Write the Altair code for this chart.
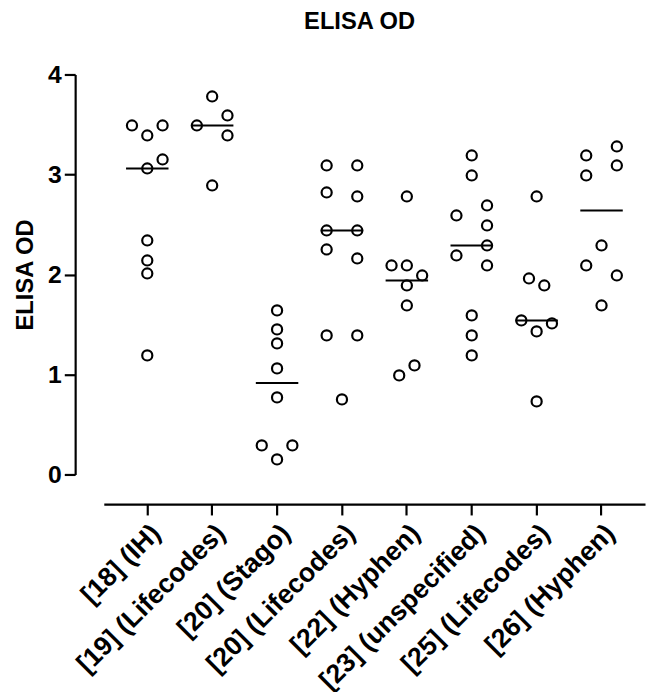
import altair as alt
import pandas as pd

groups = ["[18] (IH)", "[19] (Lifecodes)", "[20] (Stago)", "[20] (Lifecodes)",
          "[22] (Hyphen)", "[23] (unspecified)", "[25] (Lifecodes)", "[26] (Hyphen)"]

g18_ih = [3.49, 3.49, 3.39, 3.15, 3.06, 2.34, 2.14, 2.01, 1.19]
g19_life = [3.78, 3.49, 3.59, 3.39, 2.89]
g20_stago = [1.64, 1.45, 1.31, 1.06, 0.77, 0.29, 0.29, 0.15]
g20_life = [3.09, 3.09, 2.82, 2.78, 2.44, 2.44, 2.25, 2.16, 1.39, 1.39, 0.75]
g22_hyphen = [2.78, 2.09, 2.09, 1.99, 1.89, 1.69, 1.09, 0.99]
g23_unsp = [3.19, 2.99, 2.69, 2.59, 2.49, 2.29, 2.19, 2.09, 1.59, 1.39, 1.19]
g25_life = [2.78, 1.96, 1.89, 1.54, 1.51, 1.43, 0.73]
g26_hyphen = [3.28, 3.19, 3.09, 2.99, 2.29, 2.09, 1.99, 1.69]

# scatter lane of each point within its column (Prism-style column scatter)
lanes18 = [-1, 1, 0, 1, 0, 0, 0, 0, 0]
lanes19 = [0, -1, 1, 1, 0]
lanes20s = [0, 0, 0, 0, 0, -1, 1, 0]
lanes20l = [-1, 1, -1, 1, -1, 1, -1, 1, -1, 1, 0]
lanes22 = [0, -1, 0, 1, 0, 0, 0.5, -0.5]
lanes23 = [0, 0, 1, -1, 1, 1, -1, 1, 0, 0, 0]
lanes25 = [0, -0.5, 0.5, -1, 1, 0, 0]
lanes26 = [1, -1, 1, -1, 0, -1, 1, 0]

values = [g18_ih, g19_life, g20_stago, g20_life, g22_hyphen, g23_unsp, g25_life, g26_hyphen]
lanes = [lanes18, lanes19, lanes20s, lanes20l, lanes22, lanes23, lanes25, lanes26]

rows = []
for g, vals, ls in zip(groups, values, lanes):
    for v, l in zip(vals, ls):
        rows.append({"group": g, "od": v, "lane": l})
df = pd.DataFrame(rows)

FONT = "Liberation Sans"

x_enc = alt.X("group:N", sort=groups, title=None,
              scale=alt.Scale(paddingInner=0, paddingOuter=0.17),
              axis=alt.Axis(labelAngle=-45, labelFontSize=27, labelFontWeight="bold",
                            labelFont=FONT, labelColor="black", labelLimit=400,
                            labelOverlap=False, labelPadding=5, offset=30,
                            domainWidth=2.2, domainColor="black", tickWidth=2.2,
                            tickColor="black", tickSize=11, grid=False))
y_enc_axis = alt.Axis(values=[0, 1, 2, 3, 4], format="d", labelFontSize=25,
                      labelFontWeight="bold", labelFont=FONT, labelColor="black",
                      labelPadding=3, offset=29, domainWidth=2.2, domainColor="black",
                      tickWidth=2.2, tickColor="black", tickSize=11, grid=False,
                      titleFontSize=24, titleFont=FONT, titleFontWeight="bold",
                      titleColor="black", titlePadding=10)

points = alt.Chart(df).mark_point(shape="circle", filled=False, size=105,
                                  strokeWidth=2.2, color="black", opacity=1).encode(
    x=x_enc,
    xOffset=alt.XOffset("lane:Q", scale=alt.Scale(domain=[-2.12, 2.12])),
    y=alt.Y("od:Q", title="ELISA OD", scale=alt.Scale(domain=[0, 4], nice=False),
            axis=y_enc_axis),
)

medians = alt.Chart(df).mark_tick(color="black", size=43, thickness=2.2).encode(
    x=alt.X("group:N", sort=groups),
    y=alt.Y("median(od):Q"),
)

chart = alt.layer(points, medians).properties(
    width=548, height=405,
    background="white",
    title=alt.TitleParams("ELISA OD", fontSize=24, font=FONT, fontWeight="bold",
                          color="black", anchor="middle", frame="group", dx=-15,
                          offset=29),
    autosize=alt.AutoSizeParams(type="none"),
    padding={"left": 97, "top": 63, "right": 1, "bottom": 220},
).configure_view(strokeWidth=0, stroke="transparent")

chart.save("out.html", embed_options={"renderer": "svg", "actions": False})
